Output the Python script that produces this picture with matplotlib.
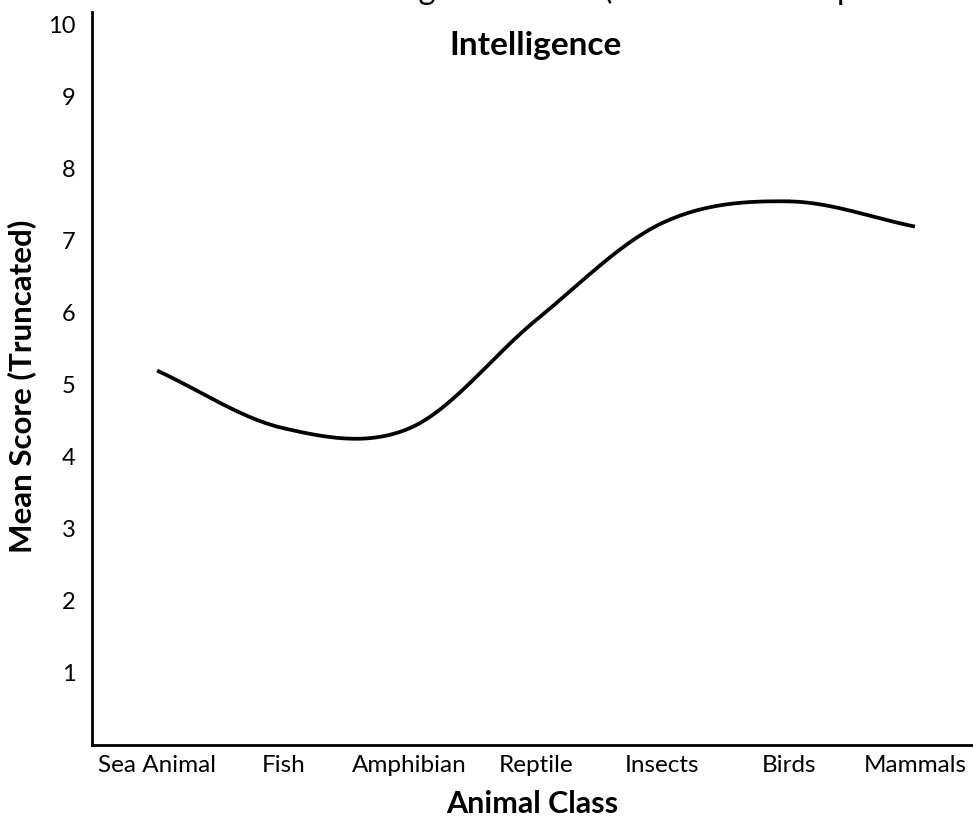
import numpy as np
import matplotlib
matplotlib.use('Agg')
import matplotlib.pyplot as plt

# data
classes = ['Sea Animal', 'Fish', 'Amphibian', 'Reptile', 'Insects', 'Birds', 'Mammals']
scores = [5.2, 4.4, 4.4, 5.9, 7.25, 7.55, 7.2]
y_ticks = [1, 2, 3, 4, 5, 6, 7, 8, 9, 10]


def smooth(xs, ys, n=30):
    # catmull-rom through the points, like Excel's smoothed line
    xs = np.asarray(xs, float)
    ys = np.asarray(ys, float)
    px = np.concatenate([[2 * xs[0] - xs[1]], xs, [2 * xs[-1] - xs[-2]]])
    py = np.concatenate([[2 * ys[0] - ys[1]], ys, [2 * ys[-1] - ys[-2]]])
    out_x, out_y = [], []
    t = np.linspace(0, 1, n)
    for i in range(1, len(px) - 2):
        for p, out in ((px, out_x), (py, out_y)):
            p0, p1, p2, p3 = p[i - 1], p[i], p[i + 1], p[i + 2]
            out.extend(0.5 * ((2 * p1) + (-p0 + p2) * t
                              + (2 * p0 - 5 * p1 + 4 * p2 - p3) * t ** 2
                              + (-p0 + 3 * p1 - 3 * p2 + p3) * t ** 3))
    return np.array(out_x), np.array(out_y)


fig = plt.figure(figsize=(9.73, 8.23), dpi=100)
ax = fig.add_axes([92 / 973, 1 - 745 / 823, 1 - 92 / 973, (745 - 12) / 823])

x = np.arange(len(classes))
sx, sy = smooth(x, scores)
ax.plot(sx, sy, color='black', lw=2.7, solid_capstyle='butt')

ax.set_xlim(-0.515, 6.46)
ax.set_ylim(0, 10.18)
ax.set_xticks(x)
ax.set_xticklabels(classes, family='Lato', fontsize=17.5)
ax.set_yticks(y_ticks)
ax.set_yticklabels([str(v) for v in y_ticks], family='Lato', fontsize=17)
ax.tick_params(axis='x', length=0, pad=7)
ax.tick_params(axis='y', length=0, pad=12)

for s in ['top', 'right']:
    ax.spines[s].set_visible(False)
ax.spines['left'].set_linewidth(2)
ax.spines['bottom'].set_linewidth(2)

ax.set_xlabel('Animal Class', family='Lato', fontweight='bold', fontsize=22, labelpad=10)
ax.set_ylabel('Mean Score (Truncated)', family='Lato', fontweight='bold', fontsize=22.5)
ax.yaxis.set_label_coords(-56 / 881, 0.49)

fig.text(535 / 973, 1 - 45 / 823, 'Intelligence', family='Lato', fontweight='bold',
         fontsize=24, ha='center', va='center')
# first title line is cut off by the top edge in the reference
fig.text(223 / 973, 1 + 1 / 823, 'Student Rating of Animals (Mean Score on perceived',
         family='Lato', fontsize=23.5, ha='left', va='baseline')

fig.savefig('out.png', dpi=100)
